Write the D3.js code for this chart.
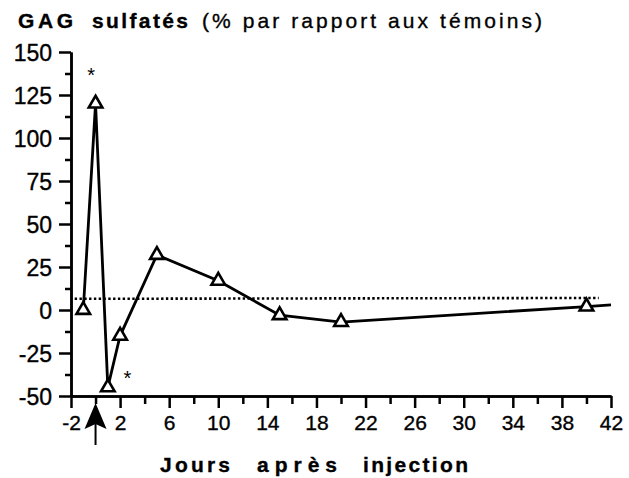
<!DOCTYPE html>
<html>
<head>
<meta charset="utf-8">
<script src="https://cdn.jsdelivr.net/npm/d3@7"></script>
<style>
  body { margin: 0; background: #fff; }
  svg { display: block; font-family: "Liberation Sans", Arial, Helvetica, sans-serif; }
  .axis path, .axis line { stroke: #000; stroke-width: 2.5; }
  .axis text { fill: #000; stroke: #000; stroke-width: 0.35; font-family: "Liberation Sans", Arial, sans-serif; }
  .heavy { stroke: #000; stroke-width: 0.35; }
</style>
</head>
<body>
<svg width="629" height="478"></svg>
<script>
// data
const days = [-1, 0, 1, 2, 5, 10, 15, 20, 40];
const gag = [0, 120, -45, -15, 32, 17, -3, -7, 2];
const lineEnd = [42, 3];              // line runs on past the last marker
const controlLine = [[-1.7, 6.5], [41, 7]]; // dotted reference line
const stars = [[-0.35, 141], [2.6, -35]];
const injectionDay = 0;

const xMajor = d3.range(-2, 43, 4);
const xMinor = d3.range(0, 43, 4);
const yMajor = d3.range(-50, 151, 25);
const yMinor = d3.range(-37.5, 150, 25);

const svg = d3.select('svg');

const x = d3.scaleLinear().domain([-2, 42]).range([71, 611]);
const y = d3.scaleLinear().domain([-50, 150]).range([396, 52]);

const fmt = d => String(d);

// axes
svg.append('g')
    .attr('class', 'axis')
    .attr('transform', `translate(0,${y(-50)})`)
    .call(d3.axisBottom(x).tickValues(xMinor).tickSize(8).tickFormat('').tickSizeOuter(0));

svg.append('g')
    .attr('class', 'axis')
    .attr('transform', `translate(0,${y(-50)})`)
    .call(d3.axisBottom(x).tickValues(xMajor).tickSize(12).tickPadding(5).tickFormat(fmt).tickSizeOuter(0))
    .call(g => g.selectAll('text').attr('dy', '0.8em').style('font-size', '21px'));

svg.append('g')
    .attr('class', 'axis')
    .attr('transform', `translate(${x(-2)},0)`)
    .call(d3.axisLeft(y).tickValues(yMinor).tickSize(6).tickFormat('').tickSizeOuter(0));

svg.append('g')
    .attr('class', 'axis')
    .attr('transform', `translate(${x(-2)},0)`)
    .call(d3.axisLeft(y).tickValues(yMajor).tickSize(12).tickPadding(7).tickFormat(fmt).tickSizeOuter(0))
    .call(g => g.selectAll('text').attr('dy', '0.36em').style('font-size', '23px'));

// dotted control level
svg.append('path')
    .datum(controlLine)
    .attr('fill', 'none')
    .attr('stroke', '#000')
    .attr('stroke-width', 2.6)
    .attr('stroke-dasharray', '2.4,2.4')
    .attr('d', d3.line().x(d => x(d[0])).y(d => y(d[1])));

// data line
const pts = days.map((d, i) => [d, gag[i]]).concat([lineEnd]);
svg.append('path')
    .datum(pts)
    .attr('fill', 'none')
    .attr('stroke', '#000')
    .attr('stroke-width', 2.8)
    .attr('stroke-linejoin', 'miter')
    .attr('d', d3.line().x(d => x(d[0])).y(d => y(d[1])));

// open triangles
svg.selectAll('.mark')
    .data(days.map((d, i) => [d, gag[i]]))
    .enter().append('path')
    .attr('class', 'mark')
    .attr('transform', d => `translate(${x(d[0])},${y(d[1])})`)
    .attr('d', d3.symbol().type(d3.symbolTriangle).size(80))
    .attr('fill', '#fff')
    .attr('stroke', '#000')
    .attr('stroke-width', 2.6);

// significance stars
svg.selectAll('.star')
    .data(stars)
    .enter().append('text')
    .attr('x', d => x(d[0]))
    .attr('y', d => y(d[1]))
    .attr('text-anchor', 'middle')
    .attr('dy', '0.75em')
    .style('font-size', '20px')
    .text('*');

// injection arrow
const ax = x(injectionDay), ay = y(-50) + 7;
svg.append('path')
    .attr('d', `M${ax},${ay} L${ax + 11},${ay + 26} L${ax},${ay + 21} L${ax - 11},${ay + 26} Z`)
    .attr('fill', '#000');
svg.append('line')
    .attr('x1', ax).attr('x2', ax)
    .attr('y1', ay + 20).attr('y2', ay + 42)
    .attr('stroke', '#000')
    .attr('stroke-width', 2);

// title
const title = [
  {t: 'GAG', x: 18, w: 55, bold: true},
  {t: 'sulfatés', x: 92, w: 96, bold: true},
  {t: '(% par rapport aux témoins)', x: 202, w: 340, bold: false}
];
svg.selectAll('.title')
    .data(title)
    .enter().append('text')
    .attr('class', 'heavy')
    .attr('x', d => d.x)
    .attr('y', 28)
    .attr('textLength', d => d.w)
    .attr('lengthAdjust', 'spacing')
    .style('font-size', '21px')
    .style('font-weight', d => d.bold ? 'bold' : 'normal')
    .text(d => d.t);

// x label
const xlab = [
  {t: 'Jours', x: 160, w: 70},
  {t: 'après', x: 257, w: 80},
  {t: 'injection', x: 363, w: 105}
];
svg.selectAll('.xlab')
    .data(xlab)
    .enter().append('text')
    .attr('class', 'heavy')
    .attr('x', d => d.x)
    .attr('y', 472)
    .attr('textLength', d => d.w)
    .attr('lengthAdjust', 'spacing')
    .style('font-size', '21px')
    .style('font-weight', 'bold')
    .text(d => d.t);
</script>
</body>
</html>
